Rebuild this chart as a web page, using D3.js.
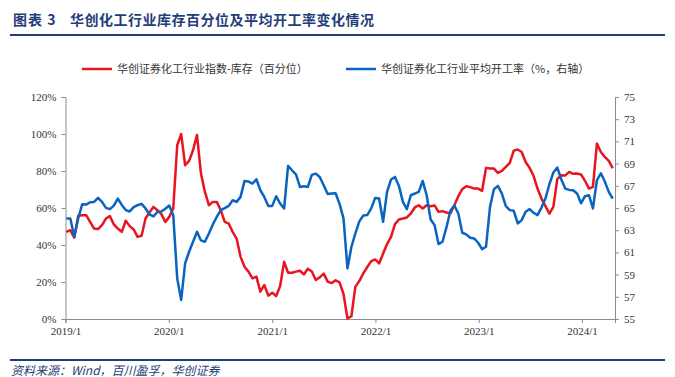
<!DOCTYPE html>
<html lang="zh">
<head>
<meta charset="UTF-8">
<title>华创化工行业库存百分位及平均开工率变化情况</title>
<style>
  body { margin: 0; background: #fff; }
  svg { display: block; }
  .axis path, .axis line { stroke: #8c8c8c; }
</style>
</head>
<body>
<div id="chart"></div>
<script src="https://d3js.org/d3.v7.min.js"></script>
<script>
// biweekly readings, first point 2019-01-04
const firstDate = "2019-01-04";
const stepDays = 14;

// 华创证券化工行业指数-库存（百分位），%
const stockPct = [
  47.1, 48.0, 44.0, 55.8, 56.1, 56.1, 52.5, 48.9, 48.6, 50.7,
  54.3, 55.6, 51.1, 48.9, 47.1, 53.1, 50.2, 48.4, 44.4, 45.0,
  54.3, 57.6, 60.6, 58.8, 56.7, 52.5, 55.2, 59.7, 93.9, 100.0,
  83.1, 85.5, 91.2, 99.5, 78.6, 68.7, 61.5, 63.3, 63.3, 58.8,
  52.5, 51.6, 47.1, 43.5, 33.6, 28.2, 25.6, 22.0, 22.9, 14.8,
  18.4, 12.6, 14.2, 12.4, 17.8, 30.9, 25.0, 25.0, 25.6, 26.1,
  24.1, 27.2, 25.7, 21.1, 22.5, 24.5, 20.2, 19.4, 20.9, 19.8,
  13.5, 0.3, 1.5, 17.5, 20.5, 24.7, 28.1, 31.3, 32.2, 30.0,
  35.4, 40.5, 44.4, 51.3, 53.8, 54.3, 54.9, 57.0, 60.3, 61.5,
  59.7, 61.5, 61.0, 61.4, 57.9, 58.3, 57.6, 57.0, 61.5, 66.4,
  70.2, 71.8, 71.3, 70.5, 70.5, 69.3, 81.7, 81.3, 81.3, 79.0,
  80.1, 82.2, 84.4, 91.0, 91.6, 90.3, 84.9, 81.7, 77.4, 70.5,
  65.1, 61.0, 57.0, 60.6, 75.6, 77.7, 77.6, 79.5, 78.5, 78.6,
  78.1, 74.7, 70.5, 71.4, 94.8, 90.3, 87.6, 85.5, 81.5
];

// 华创证券化工行业平均开工率（%，右轴）
const runRate = [
  64.06, 64.06, 62.41, 64.06, 65.34, 65.31, 65.52, 65.55, 65.91, 65.55,
  65.01, 64.90, 65.22, 65.85, 65.28, 64.81, 64.69, 65.07, 65.25, 65.37,
  64.96, 64.42, 64.24, 64.66, 64.69, 64.93, 65.22, 64.36, 58.66, 56.71,
  60.01, 61.06, 61.96, 62.86, 62.08, 61.96, 62.71, 63.52, 64.21, 64.81,
  64.99, 65.19, 65.70, 65.55, 66.00, 67.44, 67.38, 67.20, 67.59, 66.60,
  66.00, 65.19, 65.19, 66.06, 65.40, 64.96, 68.79, 68.40, 68.04, 66.90,
  66.96, 66.90, 67.98, 68.10, 67.80, 67.05, 66.27, 66.30, 66.33, 65.37,
  64.06, 59.56, 61.51, 62.71, 63.79, 64.33, 64.36, 64.96, 65.91, 65.85,
  63.76, 66.45, 67.56, 67.80, 66.99, 65.55, 64.90, 66.15, 66.30, 66.45,
  67.44, 66.15, 63.97, 63.46, 61.75, 61.96, 63.25, 64.75, 65.22, 64.51,
  62.77, 62.62, 62.32, 62.26, 61.87, 61.30, 61.51, 65.10, 66.69, 66.99,
  66.30, 65.16, 64.81, 64.75, 63.61, 63.91, 64.66, 64.90, 64.57, 64.36,
  65.04, 65.85, 67.14, 68.19, 68.64, 67.59, 66.75, 66.63, 66.60, 66.30,
  65.43, 66.06, 66.15, 64.96, 67.50, 68.13, 67.38, 66.45, 65.85
];

const leftTicks = [0, 20, 40, 60, 80, 100, 120];
const rightTicks = [55, 57, 59, 61, 63, 65, 67, 69, 71, 73, 75];
const yearTicks = ["2019-01-01", "2020-01-01", "2021-01-01", "2022-01-01", "2023-01-01", "2024-01-01"];

const titleText = "华创化工行业库存百分位及平均开工率变化情况";
const legendNames = ["华创证券化工行业指数-库存（百分位）", "华创证券化工行业平均开工率（%，右轴）"];
const sourceText = "资料来源：Wind，百川盈孚，华创证券";

const W = 675, H = 377;
const red = "#e8141f", blue = "#0a64bf", navy = "#1f3d7a";
const serif = '"Liberation Serif", "Times New Roman", serif';
const cjk = '"Noto Sans CJK SC", sans-serif';

const svg = d3.select("#chart").append("svg")
  .attr("width", W).attr("height", H);

const parse = d3.timeParse("%Y-%m-%d");
const start = parse(firstDate);
const dates = stockPct.map((d, i) => d3.timeDay.offset(start, i * stepDays));

const x = d3.scaleTime()
  .domain([parse("2019-01-01"), parse("2024-04-27")])
  .range([65.5, 615]);
const yL = d3.scaleLinear().domain([0, 120]).range([319, 97]);
const yR = d3.scaleLinear().domain([55, 75]).range([319, 97]);

// title + header rule
svg.append("text")
  .attr("x", 13).attr("y", 25)
  .attr("fill", navy)
  .style("font-family", cjk)
  .style("font-weight", "bold")
  .style("font-size", "14px")
  .style("letter-spacing", "1px")
  .text("图表 3");
svg.append("text")
  .attr("x", 70).attr("y", 25)
  .attr("fill", navy)
  .style("font-family", cjk)
  .style("font-weight", "bold")
  .style("font-size", "14px")
  .style("letter-spacing", "0.5px")
  .text(titleText);
svg.append("line")
  .attr("x1", 10).attr("x2", 665).attr("y1", 35).attr("y2", 35)
  .attr("stroke", navy).attr("stroke-width", 2);

// legend
const legend = svg.append("g").attr("transform", "translate(0,69)");
[[82, red, legendNames[0]], [346, blue, legendNames[1]]].forEach(([lx, c, t]) => {
  legend.append("line")
    .attr("x1", lx).attr("x2", lx + 30)
    .attr("stroke", c).attr("stroke-width", 2.5);
  legend.append("text")
    .attr("x", lx + 35).attr("y", 4)
    .attr("fill", "#333")
    .style("font-family", cjk)
    .style("font-size", "11px")
    .text(t);
});

// axes
function styleAxis(g) {
  g.selectAll("text")
    .style("font-family", serif)
    .style("font-size", "11px")
    .attr("fill", "#333");
}

svg.append("g").attr("class", "axis")
  .attr("transform", "translate(0,319)")
  .call(d3.axisBottom(x)
    .tickValues(yearTicks.map(parse))
    .tickFormat(d3.timeFormat("%Y/%-m"))
    .tickSizeOuter(0).tickSize(4).tickPadding(4))
  .call(styleAxis);

svg.append("g").attr("class", "axis")
  .attr("transform", "translate(65.5,0)")
  .call(d3.axisLeft(yL)
    .tickValues(leftTicks)
    .tickFormat(d => d + "%")
    .tickSizeOuter(0).tickSize(4).tickPadding(5))
  .call(styleAxis);

svg.append("g").attr("class", "axis")
  .attr("transform", "translate(615,0)")
  .call(d3.axisRight(yR)
    .tickValues(rightTicks)
    .tickSizeOuter(0).tickSize(4).tickPadding(5))
  .call(styleAxis);

// series
const redLine = d3.line()
  .x((d, i) => x(dates[i]))
  .y(d => yL(d));
const blueLine = d3.line()
  .x((d, i) => x(dates[i]))
  .y(d => yR(d));

svg.append("path")
  .datum(stockPct)
  .attr("fill", "none")
  .attr("stroke", red)
  .attr("stroke-width", 2.5)
  .attr("stroke-linejoin", "round")
  .attr("d", redLine);

svg.append("path")
  .datum(runRate)
  .attr("fill", "none")
  .attr("stroke", blue)
  .attr("stroke-width", 2.5)
  .attr("stroke-linejoin", "round")
  .attr("d", blueLine);

// footer
svg.append("line")
  .attr("x1", 10).attr("x2", 665).attr("y1", 360).attr("y2", 360)
  .attr("stroke", navy).attr("stroke-width", 2);
svg.append("text")
  .attr("x", 11).attr("y", 375)
  .attr("fill", navy)
  .style("font-family", cjk)
  .style("font-style", "italic")
  .style("font-size", "12px")
  .text(sourceText);
</script>
</body>
</html>
